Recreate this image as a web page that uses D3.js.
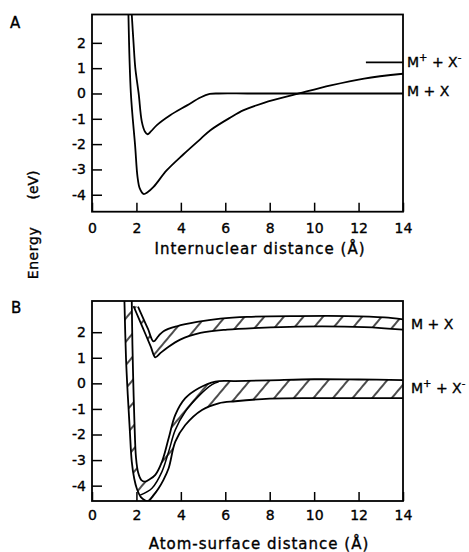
<!DOCTYPE html>
<html>
<head>
<meta charset="utf-8">
<script src="https://cdn.jsdelivr.net/npm/d3@7"></script>
<style>
  body { margin: 0; background: #fff; }
  svg text { font-family: "DejaVu Sans", sans-serif; fill: #000; stroke: #000; stroke-width: 0.35px; }
</style>
</head>
<body>
<svg width="469" height="552"></svg>
<script>
// tick values shared by both panels
const xTicks = [0, 2, 4, 6, 8, 10, 12, 14];
const yTicks = [-4, -3, -2, -1, 0, 1, 2];

// panel A: gas phase curves, [distance, energy]
const covalentA = [[1.79,3.12],[1.87,2],[1.95,1],[2.1,0],[2.24,-1.1],[2.38,-1.5],[2.5,-1.61],[2.65,-1.5],
  [2.92,-1.25],[3.52,-0.86],[4.28,-0.47],[4.88,-0.16],[5.3,-0.02],[5.7,0],[7,0],[9,0],[11,0],[14,0]];
const ionicA = [[1.64,3.12],[1.75,0],[1.94,-2.05],[2.05,-3.3],[2.15,-3.75],[2.32,-3.97],[2.5,-3.9],[2.77,-3.69],
  [3.37,-3.03],[4.12,-2.4],[4.88,-1.8],[5.33,-1.45],[6.23,-0.95],[6.83,-0.66],[7.74,-0.37],[9.32,0],
  [10.75,0.32],[12.25,0.59],[14,0.78]];
const ionicLimitA = [[12.33,1.23],[14,1.23]];

// panel B: atom-surface bands, upper and lower edges
const covTopB = [[2.07,3.0],[2.3,2.55],[2.52,2.13],[2.77,1.64],[3.0,1.86],[3.22,2.04],[3.82,2.23],[4.73,2.4],
  [5.78,2.53],[7,2.6],[9.25,2.63],[11.5,2.63],[13.16,2.58],[14,2.5]];
const covBotB = [[1.87,3.02],[2.1,2.55],[2.4,1.94],[2.65,1.43],[2.85,1.02],[3.1,1.2],[3.37,1.38],[3.97,1.71],
  [4.88,1.97],[6.08,2.1],[7.5,2.17],[9.25,2.22],[12.25,2.2],[14,2.1]];
const ionTopB = [[1.79,3.22],[1.82,1.5],[1.86,0],[1.91,-1.5],[1.98,-2.9],[2.08,-3.5],[2.22,-3.78],[2.39,-3.84],
  [2.6,-3.75],[2.85,-3.58],[3.15,-3.06],[3.45,-2.15],[3.75,-1.23],[4.2,-0.58],[4.8,-0.19],[5.55,0.07],
  [6.45,0.09],[8,0.12],[10,0.16],[12,0.15],[14,0.13]];
const ionBotB = [[1.46,3.22],[1.53,1.0],[1.61,-0.45],[1.7,-1.8],[1.79,-3.06],[1.9,-3.72],[2.02,-4.12],[2.2,-4.45],
  [2.4,-4.58],[2.54,-4.6],[2.75,-4.4],[3.0,-4.1],[3.2,-3.8],[3.45,-3.32],[3.75,-2.28],[4.2,-1.63],
  [4.95,-1.04],[5.7,-0.78],[6.45,-0.7],[8,-0.6],[10,-0.58],[12,-0.58],[14,-0.58]];
const ionMidB = [[2.17,-4.37],[2.7,-4.1],[3.15,-3.45],[3.45,-2.67],[3.75,-1.82],[4.2,-1.1],[4.8,-0.5],
  [5.4,-0.05],[5.7,0.06]];

var svg = d3.select("svg");

var x = d3.scaleLinear().domain([0, 14]).range([92, 403]);
var yA = d3.scaleLinear().domain([-4.67, 3.12]).range([211.7, 14.5]);
var yB = d3.scaleLinear().domain([-4.6, 3.22]).range([501, 301]);

var fmt = function(d) { return d < 0 ? "-" + (-d) : String(d); };

// diagonal hatching for the bands
svg.append("defs").append("pattern")
    .attr("id", "hatch")
    .attr("patternUnits", "userSpaceOnUse")
    .attr("width", 15).attr("height", 15)
    .attr("patternTransform", "rotate(40)")
  .append("line")
    .attr("x1", 1).attr("y1", 0).attr("x2", 1).attr("y2", 15)
    .attr("stroke", "#000").attr("stroke-width", 1.4);

function panel(y, top, bottom, id) {
  var g = svg.append("g");
  svg.select("defs").append("clipPath").attr("id", id)
    .append("rect").attr("x", 92).attr("y", top).attr("width", 311).attr("height", bottom - top);

  g.append("g")
      .attr("transform", "translate(92,0)")
      .call(d3.axisLeft(y).tickValues(yTicks).tickFormat(fmt).tickSizeInner(-10).tickSizeOuter(0).tickPadding(6))
      .call(function(a) { a.select(".domain").remove(); });

  g.append("g")
      .attr("transform", "translate(0," + bottom + ")")
      .call(d3.axisBottom(x).tickValues(xTicks).tickSizeInner(-9).tickSizeOuter(0).tickPadding(id == "clipA" ? 11 : 9))
      .call(function(a) { a.select(".domain").remove(); });

  g.selectAll(".tick line").attr("stroke-width", 1.5);
  g.selectAll(".tick text").style("font-size", "14px").style("font-family", "DejaVu Sans");

  g.append("rect")
      .attr("x", 92).attr("y", top).attr("width", 311).attr("height", bottom - top)
      .attr("fill", "none").attr("stroke", "#000").attr("stroke-width", 1.8);

  return g.append("g").attr("clip-path", "url(#" + id + ")");
}

var pA = panel(yA, 14.5, 211.7, "clipA");
var pB = panel(yB, 301, 501, "clipB");

var lineA = d3.line().x(function(d) { return x(d[0]); }).y(function(d) { return yA(d[1]); })
    .curve(d3.curveCatmullRom.alpha(0.5));
var lineB = d3.line().x(function(d) { return x(d[0]); }).y(function(d) { return yB(d[1]); })
    .curve(d3.curveCatmullRom.alpha(0.5));

[covalentA, ionicA, ionicLimitA].forEach(function(c) {
  pA.append("path").attr("d", lineA(c))
    .attr("fill", "none").attr("stroke", "#000").attr("stroke-width", 1.8);
});

// hatched band between two edges
function band(topEdge, botEdge) {
  var d = lineB(topEdge) + lineB(botEdge.slice().reverse()).replace(/^M/, "L") + "Z";
  pB.append("path").attr("d", d).attr("fill", "url(#hatch)").attr("stroke", "none");
  [topEdge, botEdge].forEach(function(c) {
    pB.append("path").attr("d", lineB(c))
      .attr("fill", "none").attr("stroke", "#000").attr("stroke-width", 1.8);
  });
}
band(covTopB, covBotB);
band(ionTopB, ionBotB);
pB.append("path").attr("d", lineB(ionMidB))
  .attr("fill", "none").attr("stroke", "#000").attr("stroke-width", 1.5);

// labels
function label(xp, yp, parts, size) {
  var t = svg.append("text").attr("x", xp).attr("y", yp).style("font-size", (size || 14) + "px");
  parts.forEach(function(p) {
    if (p.sup) t.append("tspan").attr("dy", -6).style("font-size", "10px").text(p.t);
    else t.append("tspan").attr("dy", p.down ? 6 : 0).text(p.t);
  });
  return t;
}

label(407, 67, [{t: "M"}, {t: "+", sup: 1}, {t: " + X", down: 1}, {t: "-", sup: 1}]);
label(407, 96, [{t: "M + X"}]);
label(411, 329, [{t: "M + X"}]);
label(411, 393, [{t: "M"}, {t: "+", sup: 1}, {t: " + X", down: 1}, {t: "-", sup: 1}]);

svg.append("text").attr("x", 10).attr("y", 28).style("font-size", "15px").text("A");
svg.append("text").attr("x", 11).attr("y", 313).style("font-size", "15px").text("B");

svg.append("text").attr("x", 260).attr("y", 254).attr("text-anchor", "middle")
    .style("font-size", "15px").style("letter-spacing", "1px").text("Internuclear distance (Å)");
svg.append("text").attr("x", 259).attr("y", 549).attr("text-anchor", "middle")
    .style("font-size", "15px").style("letter-spacing", "1px").text("Atom-surface distance (Å)");

svg.append("text").attr("transform", "translate(38,253) rotate(-90)").attr("text-anchor", "middle")
    .style("font-size", "14px").style("letter-spacing", "0.6px").text("Energy");
svg.append("text").attr("transform", "translate(38,185) rotate(-90)").attr("text-anchor", "middle")
    .style("font-size", "14px").text("(eV)");
</script>
</body>
</html>
